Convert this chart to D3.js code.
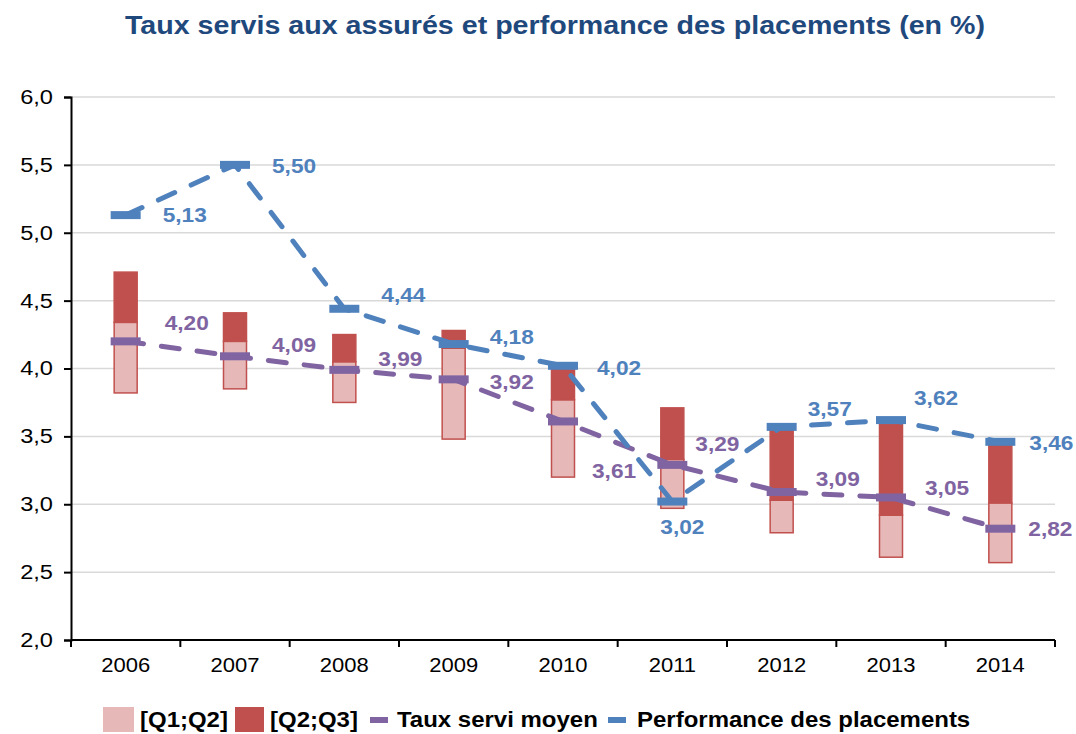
<!DOCTYPE html>
<html>
<head>
<meta charset="utf-8">
<script src="https://cdn.jsdelivr.net/npm/d3@7"></script>
<style>
  body { margin: 0; background: #fff; }
  svg { font-family: 'Liberation Sans', Arial, sans-serif; }
</style>
</head>
<body>
<script>
const years = ['2006', '2007', '2008', '2009', '2010', '2011', '2012', '2013', '2014'];
const q1 = [3.82, 3.85, 3.75, 3.48, 3.20, 2.97, 2.79, 2.61, 2.57];
const q2 = [4.34, 4.20, 4.05, 4.15, 3.77, 3.33, 3.03, 2.92, 3.01];
const q3 = [4.71, 4.41, 4.25, 4.28, 4.03, 3.71, 3.57, 3.62, 3.45];
const tauxMoyen = [4.20, 4.09, 3.99, 3.92, 3.61, 3.29, 3.09, 3.05, 2.82];
const performance = [5.13, 5.50, 4.44, 4.18, 4.02, 3.02, 3.57, 3.62, 3.46];
const yTicks = [2.0, 2.5, 3.0, 3.5, 4.0, 4.5, 5.0, 5.5, 6.0];

// label offsets (px) from each point, for the value labels
const tauxOffsets = [[39, -19], [37, -12], [34, -11], [36, 2], [29, 49], [23, -21], [34, -14], [34, -10], [28, 0]];
const perfOffsets = [[37, -1], [37, 1], [37, -14], [36, -8], [34, 2], [-12, 25], [26, -18], [23, -23], [29, 1]];

const W = 1076, H = 734;
const margin = { top: 97, right: 21, bottom: 94, left: 71 };
const width = W - margin.left - margin.right;
const height = H - margin.top - margin.bottom;

const cPink = '#e6b9b8', cRed = '#c0504d', cPurple = '#8064a2', cBlue = '#4f81bd';
const fmt = v => v.toFixed(2).replace('.', ',');

// the original text is a bit wider than the font, stretch it horizontally
function stretch(sel, f) {
    sel.each(function() {
        const w = this.getComputedTextLength();
        d3.select(this).attr('textLength', w * f).attr('lengthAdjust', 'spacingAndGlyphs');
    });
}

const svg = d3.select('body').append('svg')
    .attr('width', W)
    .attr('height', H);

svg.append('text')
    .attr('x', 555)
    .attr('y', 34)
    .attr('text-anchor', 'middle')
    .style('font-size', '25px')
    .style('font-weight', 'bold')
    .attr('fill', '#1f497d')
    .attr('textLength', 860)
    .attr('lengthAdjust', 'spacingAndGlyphs')
    .text('Taux servis aux assurés et performance des placements (en %)');

const g = svg.append('g').attr('transform', `translate(${margin.left},${margin.top})`);

const x = d3.scaleBand().domain(years).range([0, width]);
const y = d3.scaleLinear().domain([2, 6]).range([height, 0]);
const cx = d => x(d) + x.bandwidth() / 2;

// gridlines
g.append('g')
    .selectAll('line')
    .data(yTicks.slice(1))
    .enter().append('line')
    .attr('x1', 0).attr('x2', width)
    .attr('y1', d => y(d)).attr('y2', d => y(d))
    .attr('stroke', '#d9d9d9')
    .attr('stroke-width', 1.5);

// y axis
const yAxis = g.append('g')
    .call(d3.axisLeft(y).tickValues(yTicks).tickSize(7).tickFormat(d => d.toFixed(1).replace('.', ',')));
yAxis.select('.domain').attr('stroke', '#000').attr('stroke-width', 2);
yAxis.selectAll('.tick line').attr('stroke', '#000').attr('stroke-width', 2);
yAxis.selectAll('text')
    .attr('x', -18)
    .style('font-size', '20px')
    .style('font-family', "'Liberation Sans', Arial, sans-serif")
    .attr('fill', '#000')
    .call(stretch, 1.18);

// x axis with ticks at band boundaries
const xAxis = g.append('g').attr('transform', `translate(0,${height})`);
xAxis.append('line')
    .attr('x1', 0).attr('x2', width)
    .attr('stroke', '#000').attr('stroke-width', 2);
xAxis.selectAll('.bt')
    .data(years.concat(['end']))
    .enter().append('line')
    .attr('class', 'bt')
    .attr('x1', (d, i) => i * x.step()).attr('x2', (d, i) => i * x.step())
    .attr('y1', 0).attr('y2', 7)
    .attr('stroke', '#000').attr('stroke-width', 2);
xAxis.selectAll('.lab')
    .data(years)
    .enter().append('text')
    .attr('class', 'lab')
    .attr('x', d => cx(d))
    .attr('y', 32)
    .attr('text-anchor', 'middle')
    .style('font-size', '20px')
    .text(d => d)
    .call(stretch, 1.1);

// quartile bars
const bw = 23;
const bars = g.append('g');
bars.selectAll('.low')
    .data(years)
    .enter().append('rect')
    .attr('x', d => cx(d) - bw / 2)
    .attr('width', bw)
    .attr('y', (d, i) => y(q2[i]))
    .attr('height', (d, i) => y(q1[i]) - y(q2[i]))
    .attr('fill', cPink)
    .attr('stroke', cRed)
    .attr('stroke-width', 1.5);
bars.selectAll('.high')
    .data(years)
    .enter().append('rect')
    .attr('x', d => cx(d) - bw / 2)
    .attr('width', bw)
    .attr('y', (d, i) => y(q3[i]))
    .attr('height', (d, i) => y(q2[i]) - y(q3[i]))
    .attr('fill', cRed)
    .attr('stroke', cRed)
    .attr('stroke-width', 1.5);

// dashed series lines with flat markers
function drawSeries(values, color, offsets) {
    const pts = years.map((d, i) => [cx(d), y(values[i])]);
    g.append('path')
        .attr('d', d3.line()(pts))
        .attr('fill', 'none')
        .attr('stroke', color)
        .attr('stroke-width', 5)
        .attr('stroke-linecap', 'round')
        .attr('stroke-dasharray', '18,18');
    g.append('g').selectAll('rect')
        .data(pts)
        .enter().append('rect')
        .attr('x', d => d[0] - 15)
        .attr('y', d => d[1] - 4)
        .attr('width', 30)
        .attr('height', 8)
        .attr('fill', color);
    g.append('g').selectAll('text')
        .data(values)
        .enter().append('text')
        .attr('x', (d, i) => pts[i][0] + offsets[i][0])
        .attr('y', (d, i) => pts[i][1] + offsets[i][1])
        .attr('dy', '0.36em')
        .style('font-size', '21px')
        .style('font-weight', 'bold')
        .attr('fill', color)
        .text(d => fmt(d))
        .call(stretch, 1.08);
}
drawSeries(tauxMoyen, cPurple, tauxOffsets);
drawSeries(performance, cBlue, perfOffsets);

// legend
const legend = svg.append('g').attr('transform', 'translate(0,719)');
legend.append('rect').attr('x', 103).attr('y', -12).attr('width', 31).attr('height', 25).attr('fill', cPink);
legend.append('text').attr('x', 140).attr('y', 8).text('[Q1;Q2]');
legend.append('rect').attr('x', 235).attr('y', -12).attr('width', 29).attr('height', 25).attr('fill', cRed);
legend.append('text').attr('x', 270).attr('y', 8).text('[Q2;Q3]');
legend.append('rect').attr('x', 370).attr('y', -2).attr('width', 18).attr('height', 6).attr('fill', cPurple);
legend.append('text').attr('x', 397).attr('y', 8).text('Taux servi moyen');
legend.append('rect').attr('x', 608).attr('y', -2).attr('width', 18).attr('height', 6).attr('fill', cBlue);
legend.append('text').attr('x', 637).attr('y', 8).text('Performance des placements');
legend.selectAll('text')
    .style('font-size', '22px')
    .style('font-weight', 'bold')
    .attr('fill', '#000')
    .call(stretch, 1.09);
</script>
</body>
</html>
